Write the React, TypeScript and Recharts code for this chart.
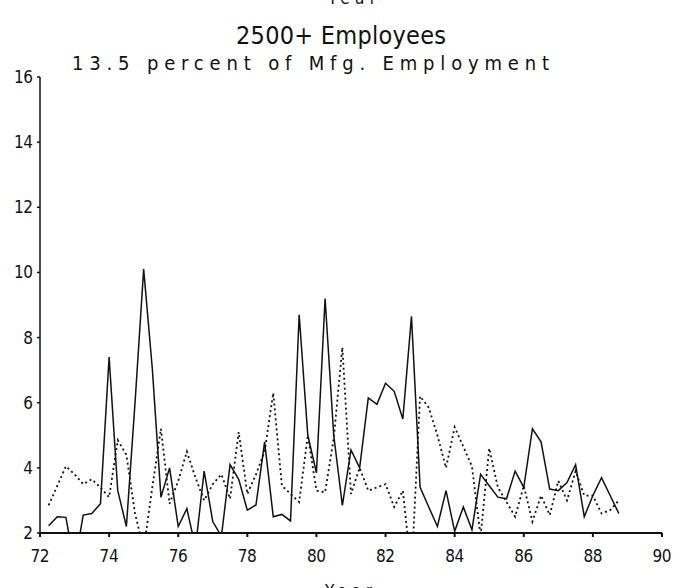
import React from 'react';
import { LineChart, Line, XAxis, YAxis } from 'recharts';

const quarters = [
  72, 72.25, 72.5, 72.75, 73, 73.25, 73.5, 73.75,
  74, 74.25, 74.5, 74.75, 75, 75.25, 75.5, 75.75,
  76, 76.25, 76.5, 76.75, 77, 77.25, 77.5, 77.75,
  78, 78.25, 78.5, 78.75, 79, 79.25, 79.5, 79.75,
  80, 80.25, 80.5, 80.75, 81, 81.25, 81.5, 81.75,
  82, 82.25, 82.5, 82.75, 83, 83.25, 83.5, 83.75,
  84, 84.25, 84.5, 84.75, 85, 85.25, 85.5, 85.75,
  86, 86.25, 86.5, 86.75, 87, 87.25, 87.5, 87.75,
  88, 88.25, 88.5, 88.75,
];

const solidSeries: (number | null)[] = [
  null, 2.22, 2.5, 2.48, 1.0, 2.55, 2.6, 2.9,
  7.4, 3.3, 2.2, 6.0, 10.1, 7.05, 3.1, 4.0,
  2.2, 2.75, 1.55, 3.9, 2.35, 1.9, 4.1, 3.65,
  2.7, 2.86, 4.8, 2.5, 2.57, 2.37, 8.7, 5.0,
  3.85, 9.2, 5.0, 2.85, 4.55, 4.0, 6.15, 5.95,
  6.6, 6.35, 5.5, 8.65, 3.4, 2.8, 2.2, 3.3,
  2.05, 2.8, 2.1, 3.8, 3.45, 3.1, 3.05, 3.9,
  3.4, 5.2, 4.8, 3.35, 3.3, 3.55, 4.1, 2.5,
  3.15, 3.7, 3.15, 2.6,
];

const dottedSeries: (number | null)[] = [
  null, 2.85, 3.45, 4.05, 3.8, 3.5, 3.65, 3.4,
  3.1, 4.85, 4.4, 2.6, 1.5, 3.4, 5.2, 2.9,
  3.6, 4.5, 3.7, 3.0, 3.5, 3.8, 3.05, 5.1,
  3.2, 3.8, 4.5, 6.3, 3.45, 3.2, 2.95, 5.0,
  3.3, 3.25, 4.9, 7.7, 3.2, 4.0, 3.3, 3.4,
  3.5, 2.8, 3.3, 0.8, 6.2, 5.85, 5.0, 4.0,
  5.25, 4.65, 4.05, 1.9, 4.6, 3.4, 2.95, 2.5,
  3.45, 2.35, 3.15, 2.55, 3.6, 3.0, 3.9, 3.15,
  3.15, 2.6, 2.7, 3.0,
];

const xTicks = [72, 74, 76, 78, 80, 82, 84, 86, 88, 90];
const yTicks = [2, 4, 6, 8, 10, 12, 14, 16];

const data = quarters.map((q, i) => ({ year: q, solid: solidSeries[i], dotted: dottedSeries[i] }));

const FONT = "'DejaVu Sans Condensed', 'Liberation Sans Narrow', 'DejaVu Sans', sans-serif";
const TXT = { fontStretch: 'condensed' as const };

const XTick = (props: any) => {
  const { x, y, payload } = props;
  return (
    <text x={x} y={y} dy={23} textAnchor="middle" fontFamily={FONT} fontSize={17} fill="#111"
      textLength={19} lengthAdjust="spacing" style={TXT}>
      {payload.value}
    </text>
  );
};

const YTick = (props: any) => {
  const { x, y, payload } = props;
  const two = String(payload.value).length > 1;
  return (
    <text x={x} y={y} dy={6} textAnchor="end" fontFamily={FONT} fontSize={17} fill="#111"
      textLength={two ? 19 : undefined} lengthAdjust="spacing" style={TXT}>
      {payload.value}
    </text>
  );
};

export default function App() {
  return (
    <div style={{ position: 'absolute', left: 0, top: 0, width: 682, height: 588, background: '#fff', overflow: 'hidden' }}>
      <LineChart width={682} height={588} data={data} margin={{ top: 77, right: 20, bottom: 0, left: 0 }}>
        <XAxis
          dataKey="year"
          type="number"
          domain={[72, 90]}
          ticks={xTicks}
          allowDataOverflow
          tick={<XTick />}
          tickSize={4}
          tickMargin={2}
          height={55}
          stroke="#111"
          strokeWidth={2}
          interval={0}
        />
        <YAxis
          type="number"
          domain={[2, 16]}
          ticks={yTicks}
          allowDataOverflow
          tick={<YTick />}
          tickSize={3}
          tickMargin={4}
          width={40}
          stroke="#111"
          strokeWidth={1.5}
          interval={0}
        />
        <Line type="linear" dataKey="dotted" stroke="#111" strokeWidth={1.8} strokeDasharray="2 3" dot={false} isAnimationActive={false} connectNulls={false} />
        <Line type="linear" dataKey="solid" stroke="#111" strokeWidth={1.5} dot={false} isAnimationActive={false} connectNulls={false} />
      </LineChart>
      <svg width={682} height={588} style={{ position: 'absolute', left: 0, top: 0, pointerEvents: 'none' }}>
        <text x={328} y={4} fontFamily={FONT} fontSize={17} fill="#111" textLength={48} lengthAdjust="spacing" style={TXT}>Year</text>
        <text x={236} y={44} fontFamily={FONT} fontSize={25} fill="#111" textLength={210} lengthAdjust="spacing" style={TXT}>2500+ Employees</text>
        <text x={72} y={70} fontFamily={FONT} fontSize={20} fill="#111" textLength={477} lengthAdjust="spacing" style={TXT}>13.5 percent of Mfg. Employment</text>
        <text x={325} y={597} fontFamily={FONT} fontSize={17} fill="#111" textLength={47} lengthAdjust="spacing" style={TXT}>Year</text>
      </svg>
    </div>
  );
}
